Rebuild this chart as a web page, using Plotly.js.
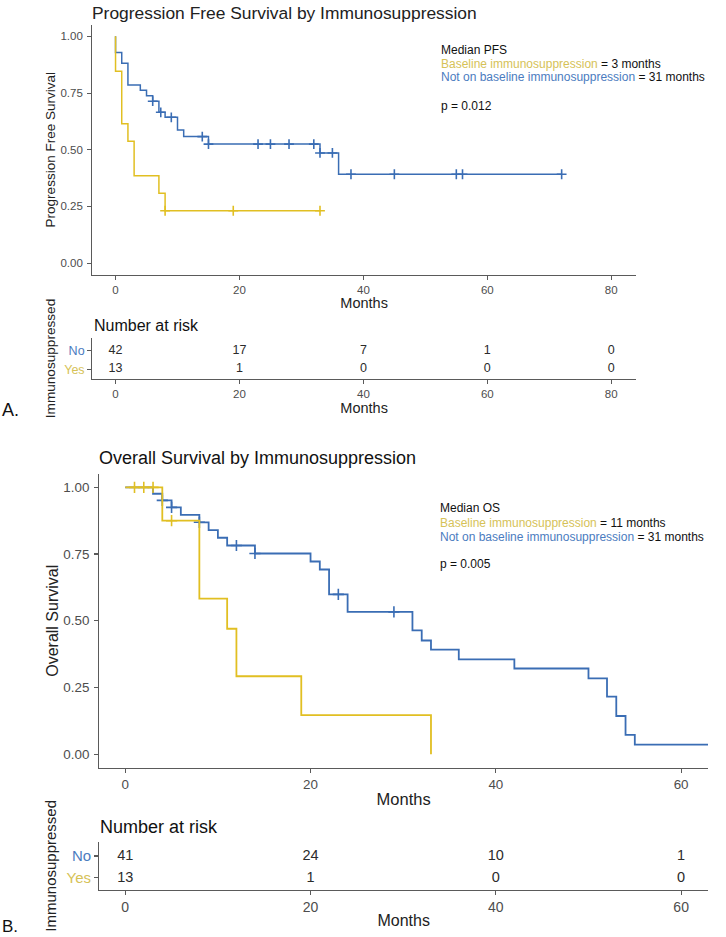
<!DOCTYPE html>
<html><head><meta charset="utf-8">
<script src="https://cdn.plot.ly/plotly-3.0.1.min.js"></script>
<style>html,body{margin:0;padding:0;background:#fff}#chart{width:726px;height:937px}</style>
</head><body><div id="chart"></div>
<script>
// ---------------- data ----------------
// A. Progression free survival
const pfsNoTime = [0, 0, 1, 2, 4, 5, 6, 7, 8, 10, 11, 15, 33, 36, 72];
const pfsNoSurv = [1, 0.929, 0.881, 0.786, 0.762, 0.738, 0.714, 0.665, 0.643, 0.587, 0.558, 0.525, 0.486, 0.392, 0.392];
const pfsNoCensTime = [6, 7.3, 9, 14, 15, 23, 25, 28, 32, 33, 35, 38, 45, 55, 56, 72];
const pfsNoCensSurv = [0.714, 0.665, 0.643, 0.558, 0.525, 0.525, 0.525, 0.525, 0.525, 0.486, 0.486, 0.392, 0.392, 0.392, 0.392, 0.392];
const pfsYesTime = [0, 0, 1, 2, 3, 7, 8, 33];
const pfsYesSurv = [1, 0.846, 0.615, 0.538, 0.385, 0.308, 0.231, 0.231];
const pfsYesCensTime = [8, 19, 33];
const pfsYesCensSurv = [0.231, 0.231, 0.231];
const riskTimesA = [0, 20, 40, 60, 80];
const riskNoA = [42, 17, 7, 1, 0];
const riskYesA = [13, 1, 0, 0, 0];

// B. Overall survival
const osNoTime = [0, 3, 4, 5, 6, 8, 9, 10, 11, 14, 20, 21, 22, 24, 31, 32, 33, 36, 42, 50, 52, 53, 54, 55, 63];
const osNoSurv = [1, 0.976, 0.951, 0.925, 0.897, 0.869, 0.840, 0.811, 0.782, 0.752, 0.722, 0.692, 0.599, 0.533, 0.464, 0.426, 0.392, 0.355, 0.321, 0.284, 0.216, 0.143, 0.072, 0.036, 0.036];
const osNoCensTime = [4, 5, 8, 12, 14, 23, 29];
const osNoCensSurv = [0.951, 0.925, 0.869, 0.782, 0.752, 0.599, 0.533];
const osYesTime = [0, 4, 8, 11, 12, 19, 33, 33];
const osYesSurv = [1, 0.875, 0.583, 0.47, 0.292, 0.146, 0.146, 0];
const osYesCensTime = [1, 2, 3, 5];
const osYesCensSurv = [1, 1, 1, 0.875];
const riskTimesB = [0, 20, 40, 60];
const riskNoB = [41, 24, 10, 1];
const riskYesB = [13, 1, 0, 0];

const groupLabels = ['Yes', 'No'];          // risk-table rows (bottom to top)
const xTicksA = [0, 20, 40, 60, 80];
const xTicksB = [0, 20, 40, 60];
const yTicks = [0, 0.25, 0.5, 0.75, 1];

// ---------------- styling ----------------
const W = 726, H = 937;
const px = v => v / W, py = v => 1 - v / H;
const BLUE = '#3A6DB4', YELLOW = '#E1BF22';
const BLUE_T = '#4B7CC0', YELLOW_T = '#D6C257';
const FONT = 'Liberation Sans, Arial, Helvetica, sans-serif';
const AX = '#5a5a5a';

function stepTrace(x, y, color, xa, ya, w) {
  return {type: 'scatter', mode: 'lines', x: x, y: y, xaxis: xa, yaxis: ya,
    line: {shape: 'hv', color: color, width: w}, hoverinfo: 'skip', showlegend: false};
}
function censTrace(x, y, color, xa, ya, s) {
  return {type: 'scatter', mode: 'markers', x: x, y: y, xaxis: xa, yaxis: ya,
    marker: {symbol: 'cross-thin', size: s, color: color, line: {color: color, width: 1.6}},
    hoverinfo: 'skip', showlegend: false};
}
function riskTrace(times, vals, row, xa, ya, size) {
  return {type: 'scatter', mode: 'text', x: times, y: times.map(() => row), text: vals.map(String),
    xaxis: xa, yaxis: ya, textposition: 'middle center',
    textfont: {family: FONT, size: size, color: '#2b2b2b'}, hoverinfo: 'skip', showlegend: false};
}

const data = [
  stepTrace(pfsNoTime, pfsNoSurv, BLUE, 'x', 'y', 1.5),
  censTrace(pfsNoCensTime, pfsNoCensSurv, BLUE, 'x', 'y', 7),
  stepTrace(pfsYesTime, pfsYesSurv, YELLOW, 'x', 'y', 1.5),
  censTrace(pfsYesCensTime, pfsYesCensSurv, YELLOW, 'x', 'y', 7),
  riskTrace(riskTimesA, riskNoA, 1, 'x2', 'y2', 12.5),
  riskTrace(riskTimesA, riskYesA, 0, 'x2', 'y2', 12.5),
  stepTrace(osNoTime, osNoSurv, BLUE, 'x3', 'y3', 1.8),
  censTrace(osNoCensTime, osNoCensSurv, BLUE, 'x3', 'y3', 8),
  stepTrace(osYesTime, osYesSurv, YELLOW, 'x3', 'y3', 1.8),
  censTrace(osYesCensTime, osYesCensSurv, YELLOW, 'x3', 'y3', 8),
  riskTrace(riskTimesB, riskNoB, 1, 'x4', 'y4', 14.5),
  riskTrace(riskTimesB, riskYesB, 0, 'x4', 'y4', 14.5)
];

function axBase(extra) {
  return Object.assign({showline: true, linecolor: AX, linewidth: 1.2, ticks: 'outside', ticklen: 4,
    tickwidth: 1.1, tickcolor: AX, showgrid: false, zeroline: false, fixedrange: true,
    automargin: false}, extra);
}
const rowText = [
  '<span style="color:' + YELLOW_T + '">' + groupLabels[0] + '</span>',
  '<span style="color:' + BLUE_T + '">' + groupLabels[1] + '</span>'
];

const layout = {
  width: W, height: H, margin: {l: 0, r: 0, t: 0, b: 0},
  paper_bgcolor: '#fff', plot_bgcolor: '#fff',
  font: {family: FONT, color: '#222'},
  title: {text: 'Progression Free Survival by Immunosuppression', x: px(92), xanchor: 'left',
    y: py(13), yanchor: 'middle', xref: 'paper', yref: 'paper', font: {size: 17.4, color: '#222'}},
  xaxis: axBase({domain: [px(92.3), px(636)], range: [-3.75, 84], anchor: 'y', tickvals: xTicksA,
    tickfont: {size: 11.5, color: '#4d4d4d'},
    title: {text: 'Months', font: {size: 14.5, color: '#222'}, standoff: 2}}),
  yaxis: axBase({domain: [py(274.5), py(25)], range: [-0.05, 1.05], anchor: 'x', tickvals: yTicks,
    tickformat: '.2f', tickfont: {size: 11.5, color: '#4d4d4d'}, ticklabelstandoff: 2,
    title: {text: 'Progression Free Survival', font: {size: 13.5, color: '#222'}, standoff: 1}}),
  xaxis2: axBase({domain: [px(92.3), px(636)], range: [-3.75, 84], anchor: 'y2', tickvals: xTicksA,
    tickfont: {size: 11.5, color: '#4d4d4d'},
    title: {text: 'Months', font: {size: 14.5, color: '#222'}, standoff: 0}}),
  yaxis2: axBase({domain: [py(379), py(338)], range: [-0.52, 1.68], anchor: 'x2', tickvals: [0, 1],
    ticktext: rowText, tickfont: {size: 12.5},
    title: {text: 'Immunosuppressed', font: {size: 13.6, color: '#222'}, standoff: 5}}),
  xaxis3: axBase({domain: [px(99.3), px(708)], range: [-2.8, 62.9], anchor: 'y3', tickvals: xTicksB,
    tickfont: {size: 13.4, color: '#4d4d4d'},
    title: {text: 'Months', font: {size: 16.5, color: '#222'}, standoff: 2}}),
  yaxis3: axBase({domain: [py(767.5), py(474)], range: [-0.05, 1.05], anchor: 'x3', tickvals: yTicks,
    tickformat: '.2f', tickfont: {size: 13.4, color: '#4d4d4d'}, ticklabelstandoff: 2,
    title: {text: 'Overall Survival', font: {size: 16, color: '#222'}, standoff: 0}}),
  xaxis4: axBase({domain: [px(99.3), px(708)], range: [-2.8, 62.9], anchor: 'y4', tickvals: xTicksB,
    tickfont: {size: 14, color: '#4d4d4d'},
    title: {text: 'Months', font: {size: 16, color: '#222'}, standoff: 0}}),
  yaxis4: axBase({domain: [py(890), py(841.7)], range: [-0.55, 1.65], anchor: 'x4', tickvals: [0, 1],
    ticktext: rowText, tickfont: {size: 15},
    title: {text: 'Immunosuppressed', font: {size: 15, color: '#222'}, standoff: 6}}),
  annotations: []
};

function note(text, x, y, size, extra) {
  layout.annotations.push(Object.assign({text: text, xref: 'paper', yref: 'paper', x: px(x), y: py(y),
    xanchor: 'left', yanchor: 'middle', showarrow: false, font: {family: FONT, size: size, color: '#111'}}, extra || {}));
}
// panel A notes
note('Median PFS', 439, 50, 12);
note('<span style="color:' + YELLOW_T + '">Baseline immunosuppression</span> = 3 months', 439, 63.5, 12);
note('<span style="color:' + BLUE_T + '">Not on baseline immunosuppression</span> = 31 months', 439, 77, 12);
note('p = 0.012', 439, 106, 12);
note('Number at risk', 92, 325, 16);
note('A.', 0, 410, 18);
// panel B notes
note('Overall Survival by Immunosuppression', 97, 458, 18);
note('Median OS', 438.3, 508.3, 12);
note('<span style="color:' + YELLOW_T + '">Baseline immunosuppression</span> = 11 months', 438.3, 522.7, 12);
note('<span style="color:' + BLUE_T + '">Not on baseline immunosuppression</span> = 31 months', 438.3, 536.7, 12);
note('p = 0.005', 438.3, 564.3, 12);
note('Number at risk', 98, 827, 18);
note('B.', 0, 926, 17);

Plotly.newPlot('chart', data, layout, {staticPlot: true, displayModeBar: false});
</script></body></html>
